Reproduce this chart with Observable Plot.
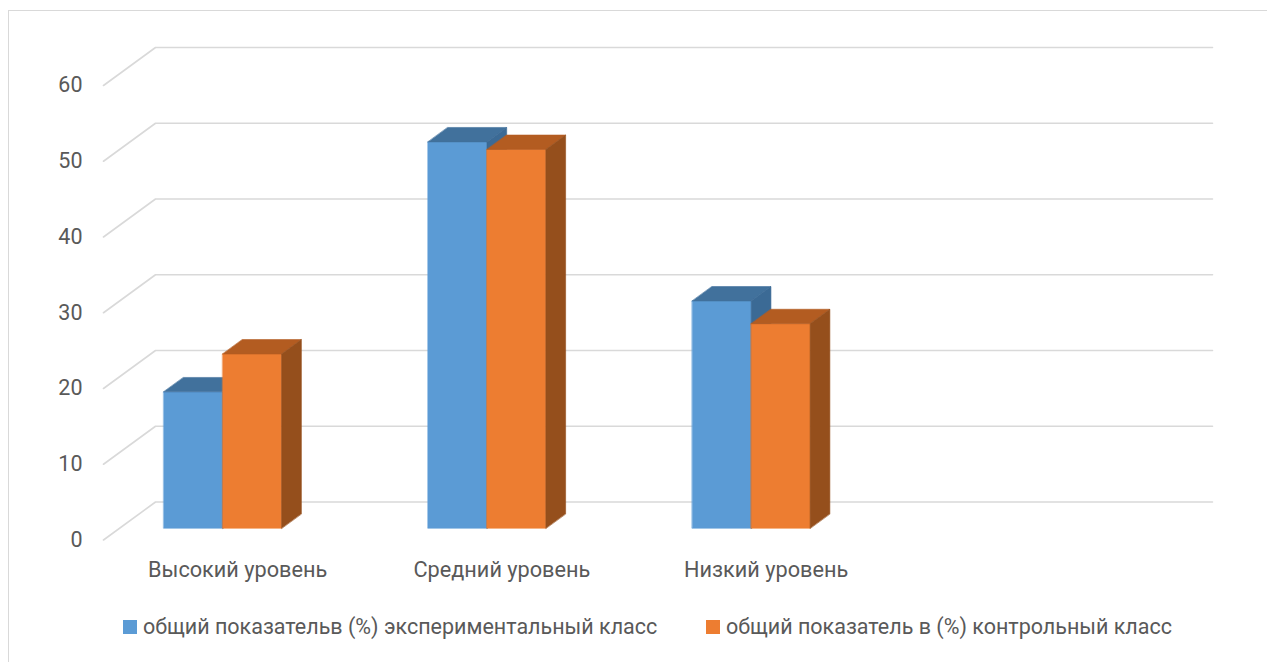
<!DOCTYPE html>
<html>
<head>
<meta charset="utf-8">
<script src="https://cdn.jsdelivr.net/npm/d3@7"></script>
<script src="https://cdn.jsdelivr.net/npm/@observablehq/plot@0.6"></script>
<style>
  html, body { margin: 0; padding: 0; background: #fff; }
  #frame { position: absolute; left: 8px; top: 10px; width: 1300px; height: 700px;
           border-left: 1.5px solid #d9d9d9; border-top: 1.5px solid #d9d9d9; }
  #chart { position: absolute; left: 0; top: 0; }
  .legend-item { position: absolute; top: 614px; display: flex; align-items: center;
                 font-family: Roboto, sans-serif; font-size: 21.5px; color: #595959; white-space: nowrap; }
  .swatch { width: 14px; height: 14px; margin-right: 6px; }
</style>
</head>
<body>
<div id="frame"></div>
<div id="chart"></div>
<div id="legend"></div>
<script>
// Levels shown along the x axis
const categories = ["Высокий уровень", "Средний уровень", "Низкий уровень"];
// Series names and their values (%)
const seriesNames = [
  "общий показательв (%) экспериментальный класс",
  "общий показатель в (%) контрольный класс"
];
const experimental = [18, 51, 30];
const control = [23, 50, 27];
// Value axis ticks
const yTicks = [0, 10, 20, 30, 40, 50, 60];

// Face colours for each series: front, top, side
const palette = [
  {front: "#5b9bd5", top: "#41719c", side: "#3b6a95"},
  {front: "#ed7d31", top: "#b35c21", side: "#954f1c"}
];

// Oblique 3-D layout in data units: one x unit = one category slot,
// depth 1 = the back wall.
const SLOTS = 4;
const DEPTH_X = 0.1968;   // x shift at full depth (slot units)
const DEPTH_Y = 5.016;    // y shift at full depth (value units)
const BAR_D0 = 0.31, BAR_D1 = 0.69;   // bar depth span
const GROUP_START = 0.167, BAR_W = 0.223;

const project = (x, v, d) => ({x: x + DEPTH_X * d, y: v + DEPTH_Y * d});

// Back wall gridlines with their diagonal run to the front edge
const grid = yTicks.flatMap(t => [
  {...project(0, t, 0), id: t},
  {...project(0, t, 1), id: t},
  {...project(SLOTS, t, 1), id: t}
]);

// Faces of every column, grouped per series in drawing order
const seriesValues = [experimental, control];
const faces = seriesValues.map((values, s) => values.flatMap((v, i) => {
  const x0 = i + GROUP_START + s * BAR_W, x1 = x0 + BAR_W;
  const c = palette[s];
  const poly = (name, fill, pts) => pts.map(p => ({...p, id: `${s}-${i}-${name}`, fill}));
  return [
    ...poly("front", c.front, [project(x0, 0, BAR_D0), project(x1, 0, BAR_D0), project(x1, v, BAR_D0), project(x0, v, BAR_D0)]),
    ...poly("top", c.top, [project(x0, v, BAR_D0), project(x1, v, BAR_D0), project(x1, v, BAR_D1), project(x0, v, BAR_D1)]),
    ...poly("side", c.side, [project(x1, 0, BAR_D0), project(x1, v, BAR_D0), project(x1, v, BAR_D1), project(x1, 0, BAR_D1)])
  ];
}));

const chart = Plot.plot({
  width: 1267,
  height: 600,
  marginLeft: 103,
  marginRight: 107,
  marginTop: 85,
  marginBottom: 60.5,
  style: {fontFamily: "Roboto, sans-serif", fontSize: "21px", color: "#595959", background: "transparent", overflow: "visible"},
  x: {domain: [0, SLOTS], axis: null, label: null},
  y: {domain: [0, 60], label: null},
  color: {type: "identity"},
  marks: [
    Plot.line(grid, {x: "x", y: "y", z: "id", stroke: "#d9d9d9", strokeWidth: 1.6}),
    Plot.axisY(yTicks, {tickSize: 0, tickPadding: 21, fontSize: 21.5}),
    ...faces.map(pts => Plot.line(pts, {
      x: "x", y: "y", z: "id", fill: "fill", stroke: "fill", strokeWidth: 0.6, curve: "linear-closed"
    })),
    Plot.text(categories, {x: (d, i) => i + 0.5, y: () => 0, dx: 2, dy: 30, text: d => d, fontSize: 21.7, fill: "#595959"})
  ]
});
document.getElementById("chart").appendChild(chart);

// Legend under the chart
const legend = document.getElementById("legend");
const legendLeft = [123, 706];
seriesNames.forEach((name, s) => {
  const item = document.createElement("div");
  item.className = "legend-item";
  item.style.left = legendLeft[s] + "px";
  const sw = document.createElement("span");
  sw.className = "swatch";
  sw.style.background = palette[s].front;
  const label = document.createElement("span");
  label.textContent = name;
  item.append(sw, label);
  legend.appendChild(item);
});
</script>
</body>
</html>
